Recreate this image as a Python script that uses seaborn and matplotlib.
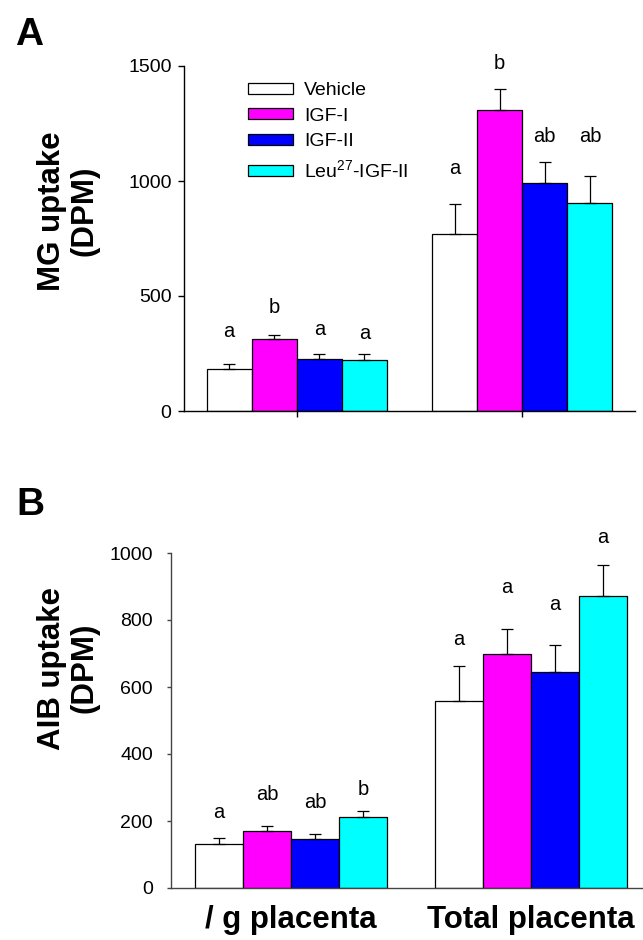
# MG and AIB uptake by placenta, two stacked panels
import matplotlib
matplotlib.use("Agg")
import matplotlib.pyplot as plt
from matplotlib.container import BarContainer
import seaborn as sns
import pandas as pd

treatments = ["Vehicle", "IGF-I", "IGF-II", "Leu$^{27}$-IGF-II"]
colors = ["#FFFFFF", "#FF00FF", "#0000FF", "#00FFFF"]
measures = ["/ g placenta", "Total placenta"]

# panel A: MG uptake (DPM)
mg_per_g = [181, 312, 228, 222]
mg_per_g_sem = [25, 20, 22, 24]
mg_total = [771, 1310, 990, 906]
mg_total_sem = [131, 92, 94, 117]
mg_letters_per_g = ["a", "b", "a", "a"]
mg_letters_total = ["a", "b", "ab", "ab"]
mg_letter_y_per_g = [320, 426, 330, 312]
mg_letter_y_total = [1029, 1488, 1170, 1170]

# panel B: AIB uptake (DPM)
aib_per_g = [130, 169, 146, 211]
aib_per_g_sem = [20, 17, 16, 20]
aib_total = [559, 698, 645, 872]
aib_total_sem = [105, 75, 80, 93]
aib_letters_per_g = ["a", "ab", "ab", "b"]
aib_letters_total = ["a", "a", "a", "a"]
aib_letter_y_per_g = [208, 264, 240, 277]
aib_letter_y_total = [725, 880, 830, 1029]

sns.set_style("ticks")
plt.rcParams["font.family"] = ["Liberation Sans", "DejaVu Sans"]
plt.rcParams["mathtext.default"] = "regular"
for k in ["text.color", "axes.labelcolor", "xtick.color", "ytick.color", "axes.edgecolor"]:
    plt.rcParams[k] = "black"

W, H = 643, 940
fig = plt.figure(figsize=(W / 100, H / 100), dpi=100)


def px_axes(left, right, top, bottom):
    return fig.add_axes([left / W, 1 - bottom / H, (right - left) / W, (bottom - top) / H])


def make_df(per_g, total):
    rows = []
    for t, v in zip(treatments, per_g):
        rows.append({"measure": measures[0], "treatment": t, "value": v})
    for t, v in zip(treatments, total):
        rows.append({"measure": measures[1], "treatment": t, "value": v})
    return pd.DataFrame(rows)


def draw_panel(ax, per_g, per_g_sem, total, total_sem, letters, letter_y, show_legend, spine_col):
    df = make_df(per_g, total)
    sns.barplot(data=df, x="measure", y="value", hue="treatment", order=measures,
                hue_order=treatments, palette=colors, errorbar=None, width=0.8,
                edgecolor="black", linewidth=0.9, saturation=1, legend=show_legend, ax=ax)
    sems = [per_g_sem, total_sem]
    bar_conts = [c for c in ax.containers if isinstance(c, BarContainer)]
    for i, cont in enumerate(bar_conts):
        xs = [b.get_x() + b.get_width() / 2 for b in cont]
        hs = [b.get_height() for b in cont]
        errs = [sems[j][i] for j in range(len(measures))]
        ax.errorbar(xs, hs, yerr=[[0] * len(hs), errs], fmt="none", ecolor="black",
                    elinewidth=0.9, capsize=4.3, capthick=0.9, zorder=1)
        for j, x in enumerate(xs):
            ax.text(x, letter_y[j][i], letters[j][i], ha="center", va="baseline",
                    fontsize=14.5, color="black")
    ax.set_xlim(-0.5, 1.5)
    ax.set_xlabel("")
    ax.set_ylabel("")
    sns.despine(ax=ax)
    for s in ["left", "bottom"]:
        ax.spines[s].set_color(spine_col)
        ax.spines[s].set_linewidth(1)


# ---- panel A
axA = px_axes(184, 635, 66, 411)
draw_panel(axA, mg_per_g, mg_per_g_sem, mg_total, mg_total_sem,
           [mg_letters_per_g, mg_letters_total], [mg_letter_y_per_g, mg_letter_y_total],
           True, "black")
axA.set_ylim(0, 1500)
axA.set_yticks([0, 500, 1000, 1500])
axA.tick_params(axis="y", labelsize=14, length=4, width=1, pad=5, direction="out")
axA.tick_params(axis="x", length=4, width=1, direction="out", labelbottom=False)
sns.move_legend(axA, "upper left", bbox_to_anchor=(248 / W, 1 - 82 / H),
                bbox_transform=fig.transFigure, frameon=False, fontsize=14,
                handlelength=2.3, handleheight=0.5, handletextpad=0.6,
                labelspacing=0.45, borderpad=0, borderaxespad=0)
leg = axA.get_legend()
leg.set_title("")
for t in leg.get_texts():
    t.set_color("black")

# ---- panel B
axB = px_axes(171, 651, 553, 888)
draw_panel(axB, aib_per_g, aib_per_g_sem, aib_total, aib_total_sem,
           [aib_letters_per_g, aib_letters_total], [aib_letter_y_per_g, aib_letter_y_total],
           False, "#444444")
axB.set_ylim(0, 1000)
axB.set_yticks([0, 200, 400, 600, 800, 1000])
axB.tick_params(axis="y", labelsize=14, length=3, width=1, pad=10, direction="out",
                color="#444444")
axB.tick_params(axis="x", length=0, pad=12)
for lab in axB.get_xticklabels():
    lab.set_fontsize(22.5)
    lab.set_fontweight("bold")

# axis titles and panel letters
fig.text(68 / W, 1 - 211 / H, "MG uptake\n(DPM)", rotation=90, ha="center", va="center",
         fontsize=22.5, fontweight="bold", multialignment="center", linespacing=1.1)
fig.text(68 / W, 1 - 668 / H, "AIB uptake\n(DPM)", rotation=90, ha="center", va="center",
         fontsize=22.5, fontweight="bold", multialignment="center", linespacing=1.1)
fig.text(15 / W, 1 - 45 / H, "A", ha="left", va="baseline", fontsize=28, fontweight="bold")
fig.text(16 / W, 1 - 515 / H, "B", ha="left", va="baseline", fontsize=28, fontweight="bold")

fig.savefig("out.png", dpi=100)
